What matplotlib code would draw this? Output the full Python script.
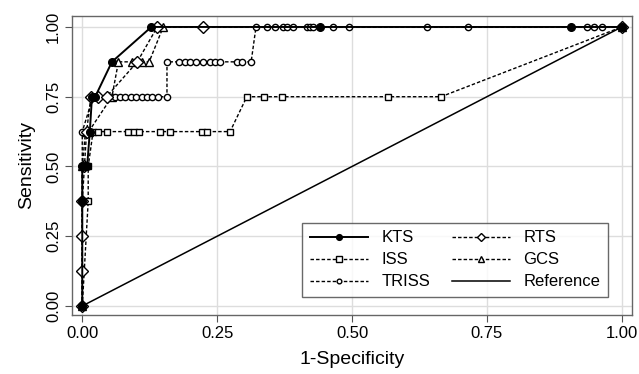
import matplotlib.pyplot as plt

plt.rcParams['font.family'] = ['Liberation Sans', 'DejaVu Sans']

# ROC points (1-specificity, sensitivity)
kts_x = [0, 0, 0, 0.005, 0.009, 0.014, 0.018, 0.024, 0.055, 0.128, 0.44, 0.905, 1.0]
kts_y = [0, 0.375, 0.5, 0.5, 0.5, 0.625, 0.75, 0.75, 0.875, 1.0, 1.0, 1.0, 1.0]

rts_x = [0, 0, 0, 0, 0.004, 0.008, 0.016, 0.03, 0.045, 0.102, 0.139, 0.224, 1.0]
rts_y = [0, 0.125, 0.25, 0.375, 0.5, 0.625, 0.75, 0.75, 0.75, 0.875, 1.0, 1.0, 1.0]

iss_x = [0, 0.011, 0.011, 0.02, 0.03, 0.046, 0.085, 0.095, 0.105, 0.144, 0.163,
         0.222, 0.231, 0.274, 0.305, 0.337, 0.37, 0.567, 0.665, 1.0]
iss_y = [0, 0.375, 0.5, 0.625, 0.625, 0.625, 0.625, 0.625, 0.625, 0.625, 0.625,
         0.625, 0.625, 0.625, 0.75, 0.75, 0.75, 0.75, 0.75, 1.0]

gcs_x = [0, 0, 0.006, 0.012, 0.055, 0.067, 0.093, 0.11, 0.124, 0.15, 1.0]
gcs_y = [0, 0.5, 0.625, 0.625, 0.75, 0.875, 0.875, 0.875, 0.875, 1.0, 1.0]

triss_x = [0, 0, 0.02, 0.03, 0.045, 0.06, 0.07, 0.08, 0.09, 0.1, 0.11, 0.12, 0.13,
           0.14, 0.157, 0.157, 0.18, 0.19, 0.2, 0.21, 0.224, 0.237, 0.246, 0.255,
           0.287, 0.296, 0.313, 0.322, 0.342, 0.357, 0.372, 0.38, 0.39, 0.416,
           0.422, 0.428, 0.465, 0.494, 0.639, 0.715, 0.935, 0.948, 0.963, 1.0]
triss_y = [0, 0.625, 0.75, 0.75, 0.75, 0.75, 0.75, 0.75, 0.75, 0.75, 0.75, 0.75, 0.75,
           0.75, 0.75, 0.875, 0.875, 0.875, 0.875, 0.875, 0.875, 0.875, 0.875, 0.875,
           0.875, 0.875, 0.875, 1.0, 1.0, 1.0, 1.0, 1.0, 1.0, 1.0,
           1.0, 1.0, 1.0, 1.0, 1.0, 1.0, 1.0, 1.0, 1.0, 1.0]

ref_x = [0, 1]
ref_y = [0, 1]

ticks = [0, 0.25, 0.5, 0.75, 1.0]
tick_labels = ['0.00', '0.25', '0.50', '0.75', '1.00']

fig = plt.figure(figsize=(6.39, 3.74), dpi=100)
ax = fig.add_axes([0.1127, 0.158, 0.876, 0.799])

ax.plot(kts_x, kts_y, '-', color='black', lw=1.4, marker='o', ms=5.5,
        mfc='black', mec='black', label='KTS', zorder=5)
ax.plot(rts_x, rts_y, '--', color='black', lw=1, dashes=(2.5, 1.5), marker='D', ms=6,
        mfc='white', mec='black', mew=1, label='RTS', zorder=4)
ax.plot(iss_x, iss_y, '--', color='black', lw=1, dashes=(2.5, 1.5), marker='s', ms=5,
        mfc='white', mec='black', mew=1, label='ISS', zorder=3)
ax.plot(gcs_x, gcs_y, '--', color='black', lw=1, dashes=(2.5, 1.5), marker='^', ms=6,
        mfc='white', mec='black', mew=1, label='GCS', zorder=3)
ax.plot(triss_x, triss_y, '--', color='black', lw=1, dashes=(2.5, 1.5), marker='o', ms=4.5,
        mfc='white', mec='black', mew=1, label='TRISS', zorder=3)
ax.plot(ref_x, ref_y, '-', color='black', lw=1.1, label='Reference', zorder=2)

ax.set_xlim(-0.019, 1.0185)
ax.set_ylim(-0.032, 1.039)
ax.set_xticks(ticks)
ax.set_xticklabels(tick_labels)
ax.set_yticks(ticks)
ax.set_yticklabels(tick_labels, rotation=90, va='center')
ax.tick_params(labelsize=12, color='#555555', length=5, width=0.8, pad=3)
ax.grid(True, color='#dddddd', lw=1)
ax.set_axisbelow(True)
for s in ax.spines.values():
    s.set_color('#666666')
    s.set_linewidth(1)

ax.set_xlabel('1-Specificity', fontsize=14, labelpad=7)
ax.set_ylabel('Sensitivity', fontsize=14, labelpad=8)

# legend in two columns: KTS/ISS/TRISS then RTS/GCS/Reference
h, l = ax.get_legend_handles_labels()
order = [0, 2, 4, 1, 3, 5]
leg = ax.legend([h[i] for i in order], [l[i] for i in order], ncol=2,
                loc='lower right', bbox_to_anchor=(0.957, 0.06), borderaxespad=0,
                fontsize=12, frameon=True, fancybox=False, edgecolor='#444444',
                borderpad=0.45, handlelength=3.5, columnspacing=1.3,
                labelspacing=0.42, handletextpad=0.8, markerscale=0.75)
leg.get_frame().set_linewidth(1)

plt.savefig('out.png')
plt.clf()
